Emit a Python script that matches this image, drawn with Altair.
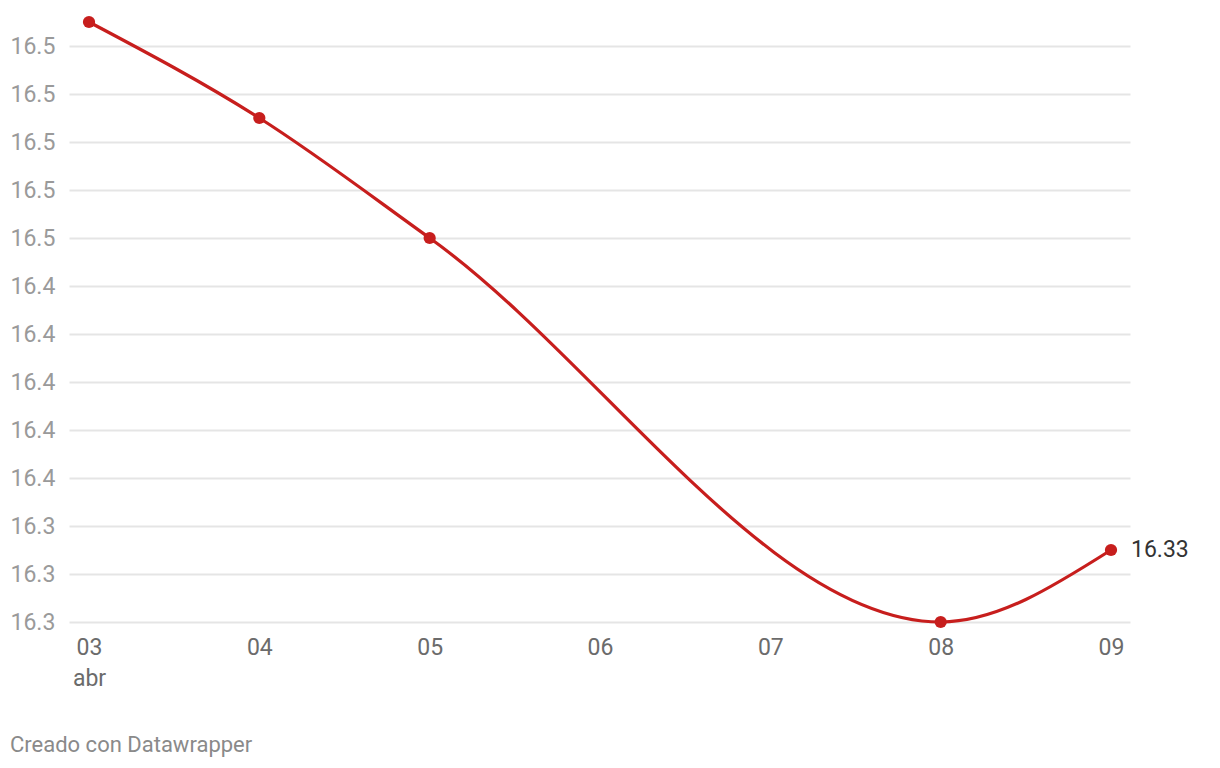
import altair as alt
import pandas as pd

days = [3, 4, 5, 8, 9]
values = [16.55, 16.51, 16.46, 16.30, 16.33]
y_ticks = [16.30, 16.32, 16.34, 16.36, 16.38, 16.40, 16.42, 16.44, 16.46, 16.48, 16.50, 16.52, 16.54]
x_ticks = [3, 4, 5, 6, 7, 8, 9]
last_label = ["16.33"]
credit = ["Creado con Datawrapper"]

df = pd.DataFrame({"day": days, "value": values})
df_last = pd.DataFrame({"day": days[-1:], "value": values[-1:], "label": last_label})
df_credit = pd.DataFrame({"t": credit})

RED = "#c71e1d"
FONT = "Roboto"

x = alt.X(
    "day:Q",
    scale=alt.Scale(domain=[2.8826, 9.1115], nice=False, zero=False),
    axis=alt.Axis(
        values=x_ticks,
        title=None,
        grid=False,
        domain=False,
        ticks=False,
        labelExpr="datum.value == 3 ? ['03', 'abr'] : '0' + datum.value",
        labelFont=FONT,
        labelFontSize=23,
        labelColor="#6b6b6b",
        labelPadding=14,
        labelLineHeight=31,
        labelBaseline="top",
    ),
)
y = alt.Y(
    "value:Q",
    scale=alt.Scale(domain=[16.30, 16.54], nice=False, zero=False),
    axis=alt.Axis(
        values=y_ticks,
        format=".1f",
        title=None,
        domain=False,
        ticks=False,
        gridColor="#e5e5e5",
        gridWidth=2,
        labelFont=FONT,
        labelFontSize=23,
        labelColor="#9a9a9a",
        labelAlign="left",
        labelPadding=59,
    ),
)

line = alt.Chart(df).mark_line(
    color=RED, strokeWidth=3.2, interpolate="monotone", clip=False
).encode(x=x, y=y)

points = alt.Chart(df).mark_point(
    filled=True, color=RED, size=150, opacity=1, clip=False
).encode(x="day:Q", y="value:Q")

label = alt.Chart(df_last).mark_text(
    align="left", baseline="middle", dx=20, font=FONT, fontSize=23, color="#333333"
).encode(x="day:Q", y="value:Q", text="label:N")

cred = alt.Chart(df_credit).mark_text(
    align="left", baseline="middle", font=FONT, fontSize=22, color="#8a8a8a"
).encode(x=alt.value(-59), y=alt.value(699), text="t:N")

chart = (
    alt.layer(line, points, label, cred)
    .properties(
        width=1061,
        height=576,
        background="white",
        autosize=alt.AutoSizeParams(type="none"),
        padding={"left": 61, "top": 38, "right": 82, "bottom": 144},
    )
    .configure_view(stroke="transparent", strokeWidth=0)
    .configure_axis(domain=False, ticks=False)
    .configure_axisX(grid=False)
)

chart.save("out.html", embed_options={"renderer": "svg", "actions": False})
